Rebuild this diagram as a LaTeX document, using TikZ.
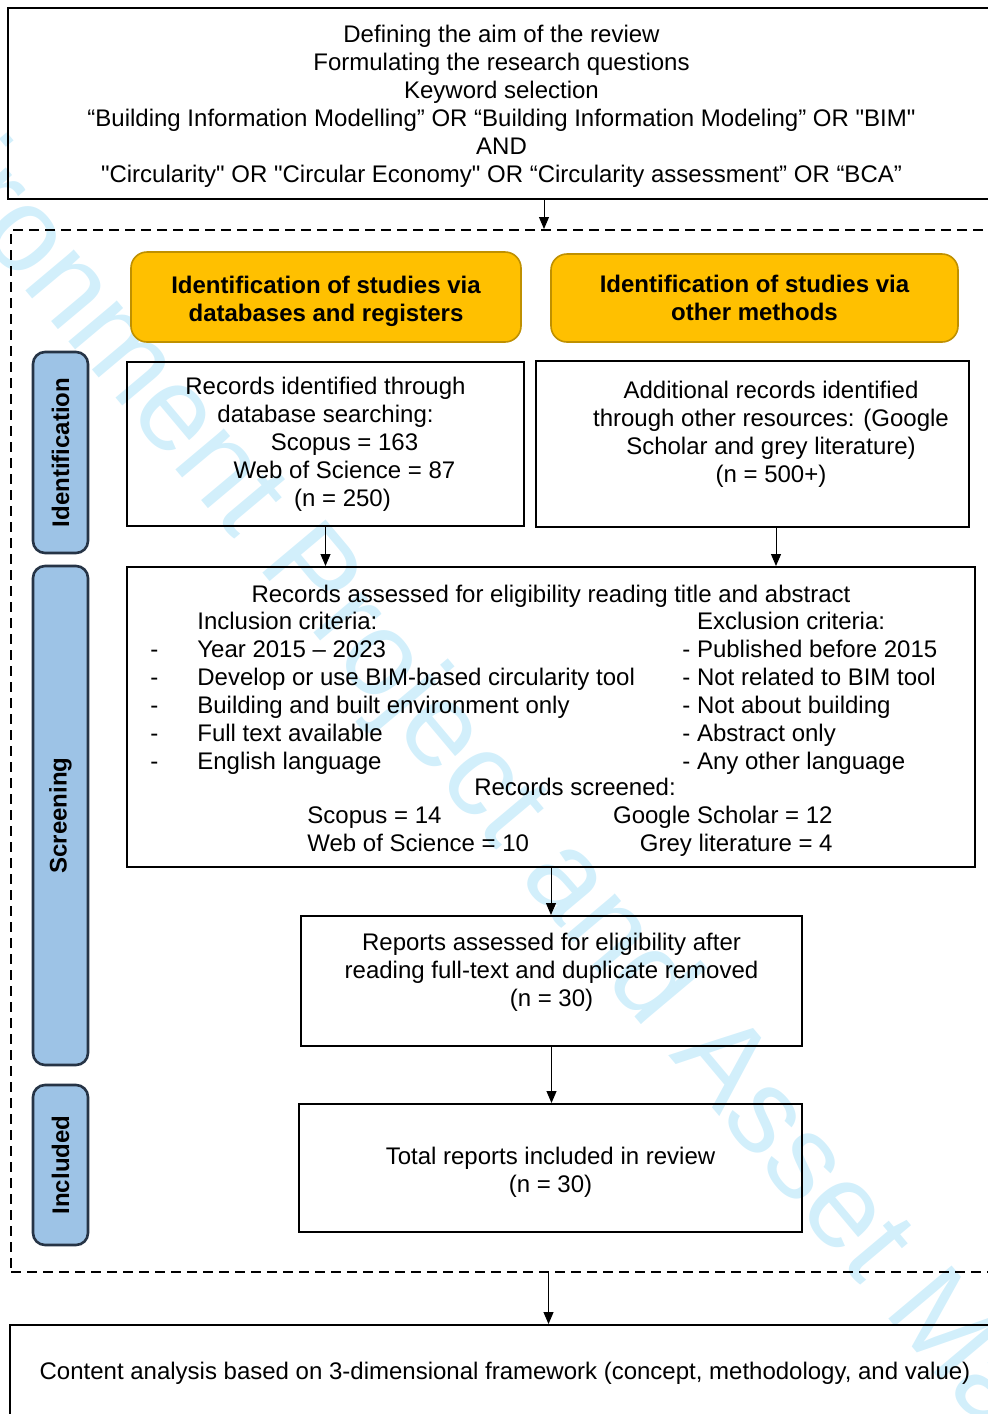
\documentclass[tikz,border=0pt]{standalone}
\usepackage{fontspec}
\newfontfamily\arialfont{Liberation Sans}
\usetikzlibrary{positioning,arrows.meta}
\definecolor{gold}{HTML}{FFC000}
\definecolor{golddark}{HTML}{BF9000}
\definecolor{stageblue}{HTML}{9DC3E6}
\definecolor{stageline}{HTML}{263446}
\definecolor{wmark}{HTML}{D2EFFB}

\begin{document}
\begin{tikzpicture}[x=0.5pt, y=-0.5pt,
    txt/.style={font=\arialfont\fontsize{12}{14}\selectfont, inner sep=0pt, align=center},
    box/.style={txt, draw, line width=1pt},
    head/.style={txt, draw=golddark, fill=gold, line width=0.8pt, rounded corners=8pt, font=\arialfont\fontsize{12}{14}\selectfont\bfseries},
    stage/.style={txt, draw=stageline, fill=stageblue, line width=1.3pt, rounded corners=6pt, rotate=90, font=\arialfont\fontsize{12}{14}\selectfont\bfseries},
    frame/.style={draw, line width=1pt, dash pattern=on 5pt off 3pt},
    arr/.style={-{Triangle[width=5pt,length=6pt]}, line width=0.5pt}]
  \useasboundingbox (0,0) rectangle (987,1414);
  \node[rotate=-50, text=wmark, font=\arialfont\fontsize{60}{60}\selectfont, inner sep=0pt] (wm) at (505.7,813.9) {Built Environment Project and Asset Management};

  \node[box, minimum width=494pt, minimum height=95.5pt, line width=1.2pt] (aim) at (502,103.5) {};
  \node[txt] (aimtxt) at (501.5,106) {Defining the aim of the review\\Formulating the research questions\\Keyword selection\\“Building Information Modelling” OR “Building Information Modeling” OR "BIM"\\AND\\"Circularity" OR "Circular Economy" OR “Circularity assessment” OR “BCA”};
  \node[frame, minimum width=494.5pt, minimum height=521pt] (review) at (505.5,751) {};

  \node[head, minimum width=195pt, minimum height=45pt] (dbhead) at (326,297) {};
  \node[txt, font=\arialfont\fontsize{12}{14}\selectfont\bfseries] (dbheadtxt) at (326,301) {Identification of studies via\\databases and registers};
  \node[head, minimum width=203.5pt, minimum height=44pt] (othhead) at (754.5,298) {Identification of studies via\\other methods};

  \node[stage, minimum width=100.5pt, minimum height=27.5pt] (ident) at (60.5,452.5) {Identification};
  \node[stage, minimum width=249.5pt, minimum height=27.5pt] (screen) at (60.5,815.5) {Screening};
  \node[stage, minimum width=80pt, minimum height=27.5pt] (incl) at (60.5,1165) {Included};

  \node[box, minimum width=198.5pt, minimum height=82pt] (recdb) at (325.5,444) {Records identified through\\database searching:\\\hspace*{19pt}Scopus = 163\\\hspace*{19pt}Web of Science = 87\\\hspace*{17pt}(n = 250)};
  \node[box, minimum width=216.5pt, minimum height=83pt] (recoth) at (752.5,444) {};
  \node[txt] (recothtxt) at (771,434) {Additional records identified\\through other resources: (Google\\Scholar and grey literature)\\(n = 500+)};

  \node[box, minimum width=424pt, minimum height=150pt] (elig) at (551,717) {};
  \node[txt, anchor=base] (eligtitle) at (551,602) {Records assessed for eligibility reading title and abstract};
  \node[txt, anchor=north west] (incrit) at (150,609.4) {\begin{tabular}{@{}l@{\hspace{19.5pt}}l@{}}
    & Inclusion criteria:\\
    - & Year 2015 – 2023\\
    - & Develop or use BIM-based circularity tool\\
    - & Building and built environment only\\
    - & Full text available\\
    - & English language
  \end{tabular}};
  \node[txt, anchor=north west] (excrit) at (682,609.4) {\begin{tabular}{@{}l@{}}
    \hspace*{7.3pt}Exclusion criteria:\\
    - Published before 2015\\
    - Not related to BIM tool\\
    - Not about building\\
    - Abstract only\\
    - Any other language
  \end{tabular}};
  \node[txt, anchor=base] (screened) at (575,795) {Records screened:};
  \node[txt, anchor=north west] (scrdb) at (307,803.4) {\begin{tabular}{@{}l@{}}Scopus = 14\\Web of Science = 10\end{tabular}};
  \node[txt, anchor=north east] (scroth) at (833,803.4) {\begin{tabular}{@{}r@{}}Google Scholar = 12\\Grey literature = 4\end{tabular}};

  \node[box, minimum width=250.5pt, minimum height=65pt] (reports) at (551.5,981) {};
  \node[txt] (reportstxt) at (551.5,972) {Reports assessed for eligibility after\\reading full-text and duplicate removed\\(n = 30)};
  \node[box, minimum width=251.5pt, minimum height=64pt] (total) at (550.5,1168) {};
  \node[txt] (totaltxt) at (550.5,1172) {Total reports included in review\\(n = 30)};

  \node[box, minimum width=495pt, minimum height=48pt] (result) at (505,1373) {Content analysis based on 3-dimensional framework (concept, methodology, and value)};

  \draw[arr] ([xshift=21pt]aim.south) -- ([xshift=21pt]aim.south |- review.north);
  \draw[arr] (recdb.south) -- (recdb.south |- elig.north);
  \draw[arr] ([xshift=11.75pt]recoth.south) -- ([xshift=11.75pt]recoth.south |- elig.north);
  \draw[arr] (elig.south) -- (elig.south |- reports.north);
  \draw[arr] (reports.south) -- (reports.south |- total.north);
  \draw[arr] ([xshift=21.5pt]review.south) -- ([xshift=21.5pt]review.south |- result.north);
\end{tikzpicture}
\end{document}
